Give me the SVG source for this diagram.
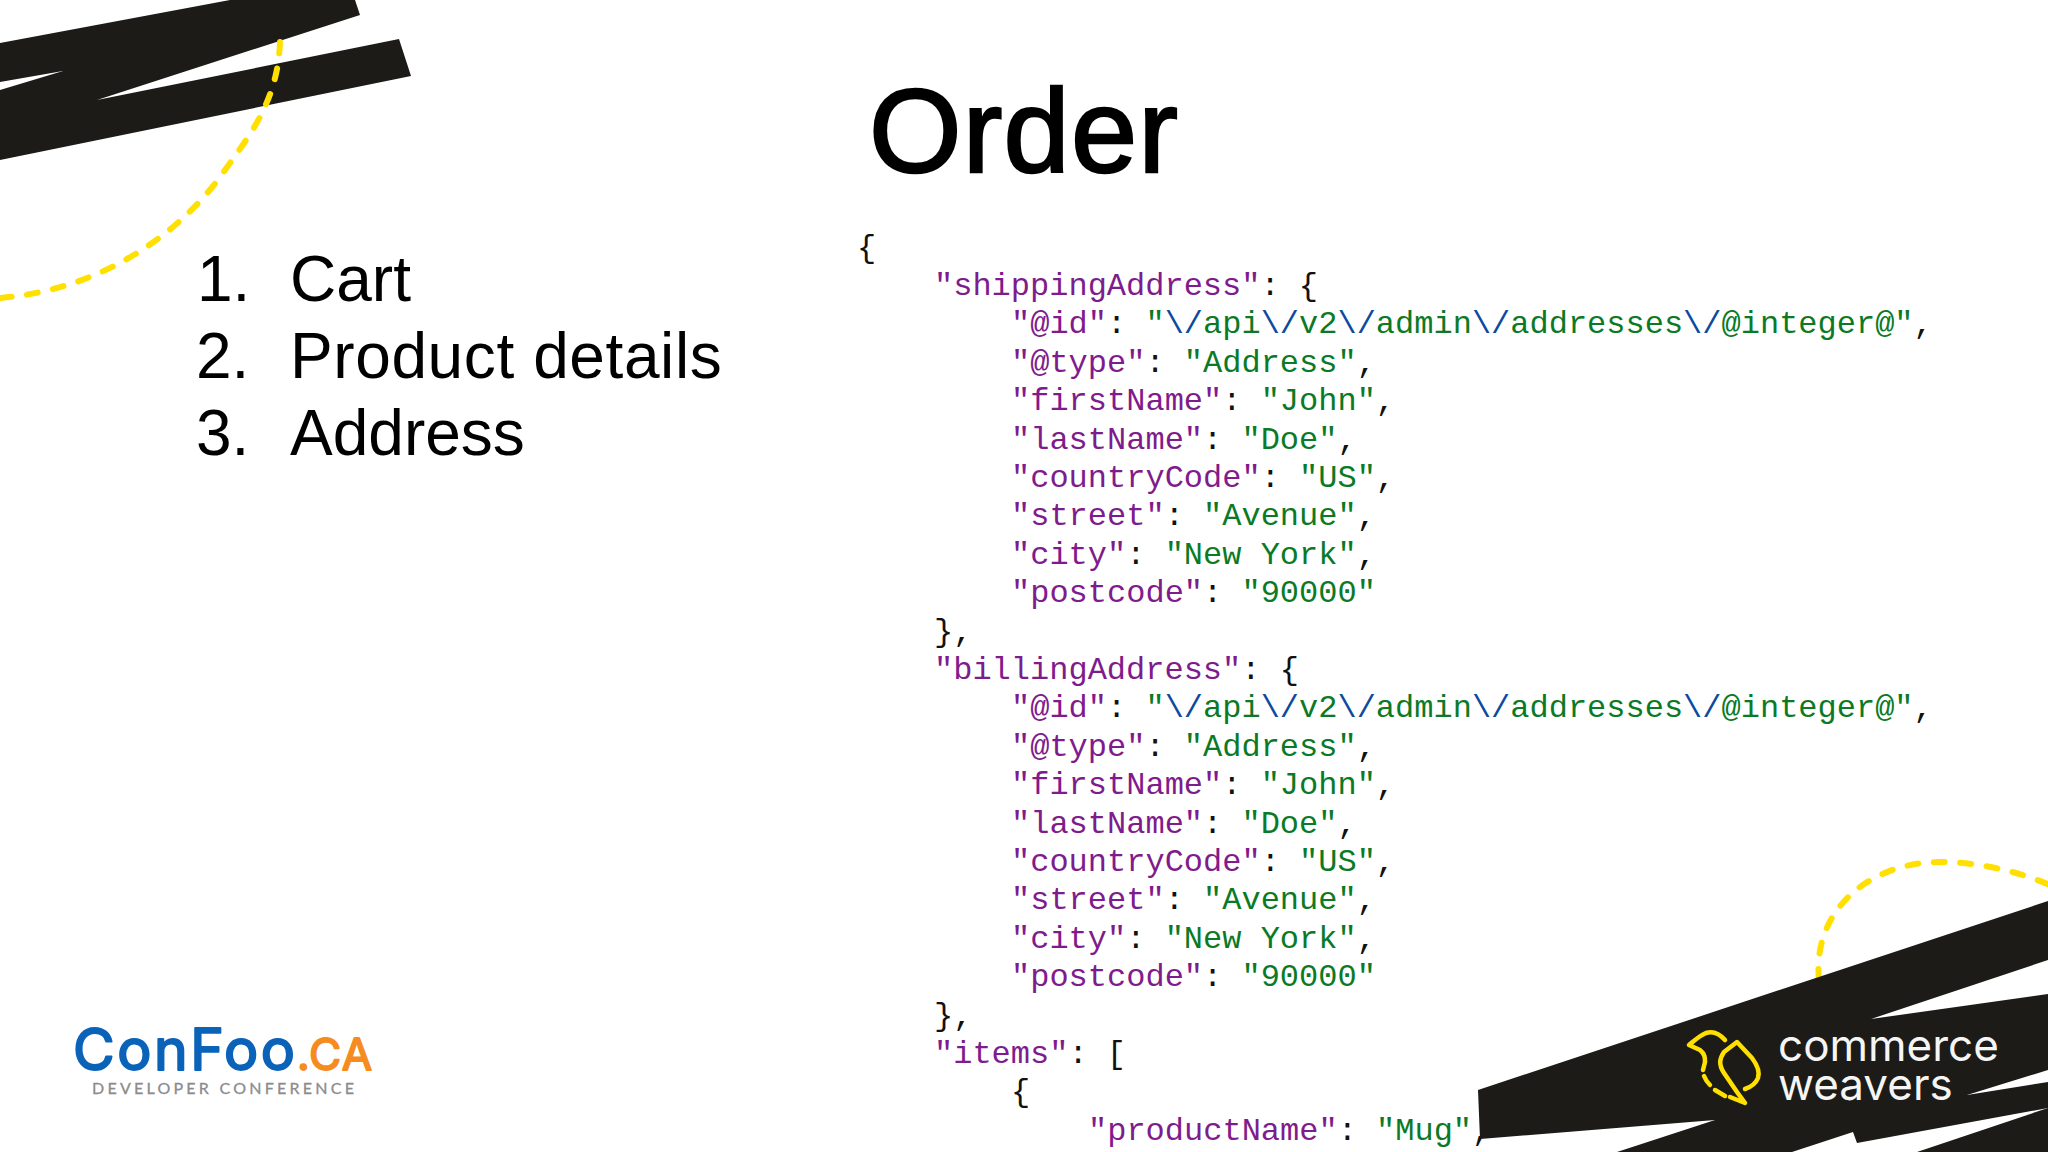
<svg xmlns="http://www.w3.org/2000/svg" width="2048" height="1152" viewBox="0 0 2048 1152">
<style>
.band{fill:#1c1b18}
.dash{fill:none;stroke:#ffe000;stroke-width:6;stroke-linecap:round;stroke-dasharray:11 15.5}
.bird{fill:none;stroke:#ffe000;stroke-width:4.5;stroke-linecap:round;stroke-linejoin:round}
.h{font-family:"Liberation Sans",Arial,sans-serif;fill:#000}
.li{font-size:64px}
.c{font-family:"Liberation Mono","Courier New",monospace;font-size:32px;fill:#111;white-space:pre}
.k{fill:#7f1c8d}
.s{fill:#0b7a26}
.e{fill:#0b4aa0}
.cw{font-family:Inter,"Liberation Sans",sans-serif;font-size:44px;fill:#f5f5f5}
</style>
<rect width="2048" height="1152" fill="#fff"/>
<text class="h" x="869" y="172" font-size="119" letter-spacing="1.2" stroke="#000" stroke-width="2.4">Order</text>
<text class="h li" x="197" y="301">1.</text><text class="h li" x="290" y="301">Cart</text>
<text class="h li" x="196" y="378">2.</text><text class="h li" x="290" y="378" letter-spacing="0.6">Product details</text>
<text class="h li" x="196" y="455">3.</text><text class="h li" x="290" y="455">Address</text>
<g id="code" transform="translate(-3,1)">
<text class="c" x="860" y="255.6">{</text>
<text class="c" x="937" y="294"><tspan class="k">"shippingAddress"</tspan>: {</text>
<text class="c" x="1014" y="332.4"><tspan class="k">"@id"</tspan>: <tspan class="s">"<tspan class="e">\/</tspan>api<tspan class="e">\/</tspan>v2<tspan class="e">\/</tspan>admin<tspan class="e">\/</tspan>addresses<tspan class="e">\/</tspan>@integer@"</tspan>,</text>
<text class="c" x="1014" y="370.8"><tspan class="k">"@type"</tspan>: <tspan class="s">"Address"</tspan>,</text>
<text class="c" x="1014" y="409.2"><tspan class="k">"firstName"</tspan>: <tspan class="s">"John"</tspan>,</text>
<text class="c" x="1014" y="447.6"><tspan class="k">"lastName"</tspan>: <tspan class="s">"Doe"</tspan>,</text>
<text class="c" x="1014" y="486"><tspan class="k">"countryCode"</tspan>: <tspan class="s">"US"</tspan>,</text>
<text class="c" x="1014" y="524.4"><tspan class="k">"street"</tspan>: <tspan class="s">"Avenue"</tspan>,</text>
<text class="c" x="1014" y="562.8"><tspan class="k">"city"</tspan>: <tspan class="s">"New York"</tspan>,</text>
<text class="c" x="1014" y="601.2"><tspan class="k">"postcode"</tspan>: <tspan class="s">"90000"</tspan></text>
<text class="c" x="937" y="639.6">},</text>
<text class="c" x="937" y="678"><tspan class="k">"billingAddress"</tspan>: {</text>
<text class="c" x="1014" y="716.4"><tspan class="k">"@id"</tspan>: <tspan class="s">"<tspan class="e">\/</tspan>api<tspan class="e">\/</tspan>v2<tspan class="e">\/</tspan>admin<tspan class="e">\/</tspan>addresses<tspan class="e">\/</tspan>@integer@"</tspan>,</text>
<text class="c" x="1014" y="754.8"><tspan class="k">"@type"</tspan>: <tspan class="s">"Address"</tspan>,</text>
<text class="c" x="1014" y="793.2"><tspan class="k">"firstName"</tspan>: <tspan class="s">"John"</tspan>,</text>
<text class="c" x="1014" y="831.6"><tspan class="k">"lastName"</tspan>: <tspan class="s">"Doe"</tspan>,</text>
<text class="c" x="1014" y="870"><tspan class="k">"countryCode"</tspan>: <tspan class="s">"US"</tspan>,</text>
<text class="c" x="1014" y="908.4"><tspan class="k">"street"</tspan>: <tspan class="s">"Avenue"</tspan>,</text>
<text class="c" x="1014" y="946.8"><tspan class="k">"city"</tspan>: <tspan class="s">"New York"</tspan>,</text>
<text class="c" x="1014" y="985.2"><tspan class="k">"postcode"</tspan>: <tspan class="s">"90000"</tspan></text>
<text class="c" x="937" y="1023.6">},</text>
<text class="c" x="937" y="1062"><tspan class="k">"items"</tspan>: [</text>
<text class="c" x="1014" y="1100.4">{</text>
<text class="c" x="1091" y="1138.8"><tspan class="k">"productName"</tspan>: <tspan class="s">"Mug"</tspan>,</text>
</g>
<g id="corner-top-left">
<path class="band" d="M0,43 L230,0 L355,0 L360,15 L97,100 L399,39 L411,76 L0,160 L0,90 L63,71 L0,82 Z"/>
<path class="dash" d="M280,42 C278,100 250,135 225,170 C180,235 100,290 0,298"/>
</g>
<g id="corner-bottom-right">
<path class="dash" d="M1819,980 C1812,910 1870,862 1940,862 C1975,862 2015,870 2050,885"/>
<path class="band" d="M1478,1090 L2048,901 L2048,960 L1871,1019 L2048,994 L2048,1070 L1967,1095 L2048,1082 L2048,1108 L1857,1143 L1853,1132 L1792,1152 L1617,1152 L1715,1120 L1480,1139 Z"/>
<path class="band" d="M1917,1152 L2048,1108 L2048,1152 Z"/>
<g transform="translate(2,0)">
<path class="bird" d="M1723,1040 C1717,1033 1710,1031 1704,1033 C1697,1036 1692,1041 1687,1045 L1698,1050 C1703,1054 1703,1058 1703,1062 L1701,1070"/>
<path class="bird" d="M1702,1076 Q1704,1081 1708,1085"/>
<path class="bird" d="M1713,1090 L1723,1096"/>
<path class="bird" d="M1728,1097 L1743,1103 L1735,1092 L1722,1073 C1716,1064 1718,1058 1722,1052 L1735,1042 L1750,1058 C1756,1066 1758,1072 1756,1078 C1754,1083 1749,1087 1743,1089"/>
</g>
<text class="cw" x="1778" y="1060.5">commerce</text>
<text class="cw" x="1778" y="1099.5">weavers</text>
</g>
<g id="confoo">
<text x="73" y="1070" font-family="Inter,'Open Sans',sans-serif" font-size="57" font-weight="400" fill="#0a63b8" stroke="#0a63b8" stroke-width="2" stroke-linejoin="round" textLength="222">ConFoo</text>
<text x="297" y="1070" font-family="Inter,'Open Sans',sans-serif" font-size="44" font-weight="400" fill="#f68b1f" stroke="#f68b1f" stroke-width="1.8" stroke-linejoin="round" textLength="75">.CA</text>
<text x="92" y="1094" font-family="Lato,'Open Sans',sans-serif" font-size="16" font-weight="400" fill="#8c8c8c" stroke="#8c8c8c" stroke-width="0.3" textLength="262">DEVELOPER CONFERENCE</text>
</g>
</svg>
